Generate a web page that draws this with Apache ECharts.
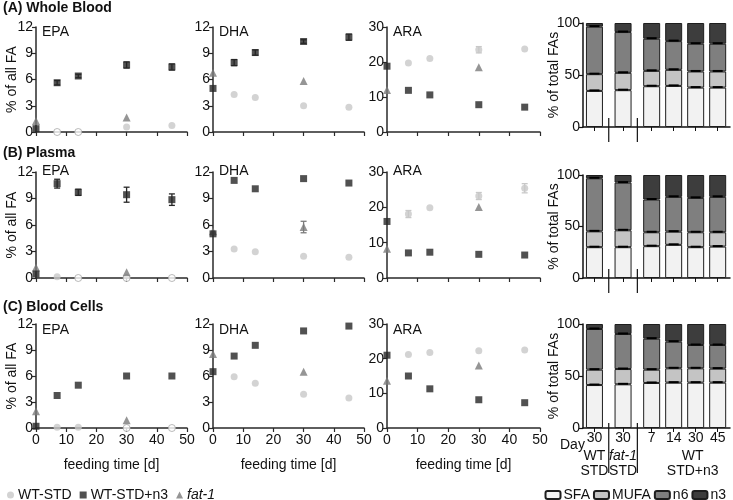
<!DOCTYPE html>
<html><head><meta charset="utf-8">
<script src="https://cdn.jsdelivr.net/npm/echarts@6/dist/echarts.min.js"></script>
<style>html,body{margin:0;padding:0;background:#fff}#c{width:733px;height:500px}</style>
</head><body><div id="c"></div>
<script>
// ---------------- data ----------------
const daysWT = [7, 14, 30, 45];
const daysN3 = [0, 7, 14, 30, 45];
const daysFat1 = [0, 30];

// (A) Whole blood
const wbEPA_WT = [0, 0, 0.57, 0.73];
const wbEPA_N3 = [0.38, 5.63, 6.4, 7.66, 7.43];
const wbEPA_Fat1 = [1.26, 1.65];
const wbEPA_N3_err = [0, 0.25, 0.2, 0.35, 0.35];
const wbDHA_WT = [4.29, 3.95, 2.99, 2.84];
const wbDHA_N3 = [4.98, 7.93, 9.08, 10.34, 10.84];
const wbDHA_Fat1 = [6.78, 5.82];
const wbDHA_N3_err = [0, 0.35, 0.3, 0.2, 0.35];
const wbARA_WT = [19.75, 21.0, 23.5, 23.7];
const wbARA_N3 = [18.8, 11.9, 10.6, 7.8, 7.1];
const wbARA_Fat1 = [12.0, 18.5];
const wbARA_WT_err = [0, 0, 0.9, 0];

// (B) Plasma
const plEPA_WT = [0.15, 0, 0, 0];
const plEPA_N3 = [0.45, 10.68, 9.7, 9.43, 8.87];
const plEPA_Fat1 = [1.2, 0.64];
const plEPA_N3_err = [0, 0.5, 0.35, 0.85, 0.65];
const plDHA_WT = [3.28, 2.98, 2.45, 2.34];
const plDHA_N3 = [5.0, 11.05, 10.1, 11.25, 10.75];
const plDHA_Fat1 = [5.28, 5.77];
const plDHA_Fat1_err = [0, 0.65];
const plARA_WT = [18.1, 19.9, 23.2, 25.4];
const plARA_N3 = [16.0, 7.1, 7.3, 6.7, 6.5];
const plARA_Fat1 = [8.3, 20.1];
const plARA_WT_err = [1.0, 0, 1.0, 1.3];

// (C) Blood cells
const bcEPA_WT = [0.08, 0.08, 0, 0];
const bcEPA_N3 = [0.2, 3.75, 4.94, 6.0, 6.0];
const bcEPA_Fat1 = [1.92, 0.88];
const bcDHA_WT = [5.9, 5.17, 3.9, 3.45];
const bcDHA_N3 = [6.5, 8.3, 9.54, 11.2, 11.76];
const bcDHA_Fat1 = [8.54, 6.5];
const bcARA_WT = [21.2, 21.8, 22.3, 22.5];
const bcARA_N3 = [21.0, 15.0, 11.3, 8.15, 7.3];
const bcARA_Fat1 = [13.6, 18.0];

// stacked composition bars
const barDay = ['30', '30', '7', '14', '30', '45'];
const barGroup = [0, 1, 2, 2, 2, 2];
const groupNames = [['WT', 'STD'], ['fat-1', 'STD'], ['WT', 'STD+n3']];
const fractions = ['SFA', 'MUFA', 'n6', 'n3'];
const wbSFA = [34.7, 35.4, 39.2, 39.5, 37.9, 37.9];
const wbMUFA = [16.1, 16.7, 14.8, 15.5, 15.5, 15.5];
const wbN6 = [45.7, 39.2, 30.9, 27.6, 26.7, 26.7];
const wbN3 = [3.5, 8.7, 15.1, 17.4, 19.9, 19.9];
const plSFA = [29.9, 29.9, 30.9, 32.2, 29.9, 30.5];
const plMUFA = [15.4, 16.4, 13.5, 12.8, 14.5, 13.9];
const plN6 = [51.5, 46.3, 31.8, 33.8, 33.4, 34.4];
const plN3 = [3.2, 7.4, 23.8, 21.2, 22.2, 21.2];
const bcSFA = [41.3, 42.0, 43.3, 43.6, 43.6, 43.6];
const bcMUFA = [14.8, 14.7, 12.8, 13.8, 13.8, 13.5];
const bcN6 = [39.1, 33.7, 29.8, 25.6, 22.4, 22.7];
const bcN3 = [4.8, 9.6, 14.1, 17.0, 20.2, 20.2];

// ---------------- layout / style ----------------
const FONT = '"Liberation Sans", Arial, Helvetica, sans-serif';
const TXT = '#111';
const AX = '#2a2a2a';
const C_WT = '#c8c8c8', C_N3 = '#262626', C_F1 = '#7b7b7b';
const BAR_COLORS = ['#f2f2f2', '#c4c4c4', '#7f7f7f', '#3d3d3d'];

const rowTitles = ['(A) Whole Blood', '(B) Plasma', '(C) Blood Cells'];
const rowTitleTop = [1, 146, 300];
const rowTop = [27, 172, 324], rowH = [105, 106, 104];
const colLeft = [36, 213, 387], colW = [151, 151, 153];
const labelCenter = [33, 172, 331];
const barTop = [23, 175, 324], barH = [104, 103, 104];
const barLeft = 583, barW = 147;

const panels = [
  [
    {name: 'EPA', max: 12, iv: 3, wt: wbEPA_WT, n3: wbEPA_N3, f1: wbEPA_Fat1, n3Err: wbEPA_N3_err},
    {name: 'DHA', max: 12, iv: 3, wt: wbDHA_WT, n3: wbDHA_N3, f1: wbDHA_Fat1, n3Err: wbDHA_N3_err},
    {name: 'ARA', max: 30, iv: 10, wt: wbARA_WT, n3: wbARA_N3, f1: wbARA_Fat1, wtErr: wbARA_WT_err}
  ],
  [
    {name: 'EPA', max: 12, iv: 3, wt: plEPA_WT, n3: plEPA_N3, f1: plEPA_Fat1, n3Err: plEPA_N3_err},
    {name: 'DHA', max: 12, iv: 3, wt: plDHA_WT, n3: plDHA_N3, f1: plDHA_Fat1, f1Err: plDHA_Fat1_err},
    {name: 'ARA', max: 30, iv: 10, wt: plARA_WT, n3: plARA_N3, f1: plARA_Fat1, wtErr: plARA_WT_err}
  ],
  [
    {name: 'EPA', max: 12, iv: 3, wt: bcEPA_WT, n3: bcEPA_N3, f1: bcEPA_Fat1},
    {name: 'DHA', max: 12, iv: 3, wt: bcDHA_WT, n3: bcDHA_N3, f1: bcDHA_Fat1},
    {name: 'ARA', max: 30, iv: 10, wt: bcARA_WT, n3: bcARA_N3, f1: bcARA_Fat1}
  ]
];
const barData = [
  [wbSFA, wbMUFA, wbN6, wbN3],
  [plSFA, plMUFA, plN6, plN3],
  [bcSFA, bcMUFA, bcN6, bcN3]
];

// bar positions on a value axis: index plus a gap between groups
const barPos = barGroup.map((g, i) => +(i + 0.3 * g).toFixed(2));
const groupCenters = groupNames.map((_, g) => {
  const ps = barPos.filter((p, i) => barGroup[i] === g);
  return (ps[0] + ps[ps.length - 1]) / 2;
});
const separators = [1, 2].map(g => {
  const a = barPos[barGroup.indexOf(g) - 1], b = barPos[barGroup.indexOf(g)];
  return (a + b) / 2;
});

function errRender(params, api) {
  const x = api.value(0), lo = api.value(1), hi = api.value(2);
  const a = api.coord([x, lo]), b = api.coord([x, hi]);
  const w = 3;
  const st = {stroke: api.visual('color'), lineWidth: 1.3};
  return {type: 'group', children: [
    {type: 'line', shape: {x1: a[0], y1: a[1], x2: b[0], y2: b[1]}, style: st},
    {type: 'line', shape: {x1: a[0] - w, y1: a[1], x2: a[0] + w, y2: a[1]}, style: st},
    {type: 'line', shape: {x1: b[0] - w, y1: b[1], x2: b[0] + w, y2: b[1]}, style: st}
  ]};
}
function errData(days, vals, errs) {
  const out = [];
  if (!errs) return out;
  days.forEach((d, i) => { if (errs[i] > 0) out.push([d, vals[i] - errs[i], vals[i] + errs[i]]); });
  return out;
}

const grid = [], xAxis = [], yAxis = [], series = [], title = [], graphic = [];
const axisLineStyle = {color: AX, width: 1.5};

for (let r = 0; r < 3; r++) {
  title.push({text: rowTitles[r], left: 3, top: rowTitleTop[r], padding: 0,
    textStyle: {fontFamily: FONT, fontSize: 14, fontWeight: 'bold', color: TXT}});
  for (let c = 0; c < 3; c++) {
    const p = panels[r][c];
    const gi = grid.length;
    grid.push({left: colLeft[c], top: rowTop[r], width: colW[c], height: rowH[r]});
    xAxis.push({gridIndex: gi, type: 'value', min: 0, max: 50, interval: 10,
      axisLine: {show: true, onZero: false, lineStyle: axisLineStyle},
      axisTick: {show: true, length: 4, lineStyle: {color: AX, width: 1.2}},
      axisLabel: {show: r === 2, fontFamily: FONT, fontSize: 14, color: TXT, margin: 5},
      splitLine: {show: false},
      name: r === 2 ? 'feeding time [d]' : '', nameLocation: 'middle', nameGap: 30,
      nameTextStyle: {fontFamily: FONT, fontSize: 14, color: TXT}});
    yAxis.push({gridIndex: gi, type: 'value', min: 0, max: p.max, interval: p.iv,
      axisLine: {show: true, onZero: false, lineStyle: axisLineStyle},
      axisTick: {show: true, length: 4, lineStyle: {color: AX, width: 1.2}},
      axisLabel: {fontFamily: FONT, fontSize: 14, color: TXT, margin: 3},
      splitLine: {show: false},
      name: c === 0 ? '% of all FA' : '', nameLocation: 'middle', nameGap: 17, nameMoveOverlap: false,
      nameTextStyle: {fontFamily: FONT, fontSize: 14, color: TXT}});
    title.push({text: p.name, left: colLeft[c] + 6, top: labelCenter[r] - 8, padding: 0,
      textStyle: {fontFamily: FONT, fontSize: 14, fontWeight: 'normal', color: TXT}});

    const common = {xAxisIndex: gi, yAxisIndex: gi};
    [[daysWT, p.wt, p.wtErr, C_WT], [daysN3, p.n3, p.n3Err, C_N3], [daysFat1, p.f1, p.f1Err, C_F1]].forEach(([d, v, e, col], k) => {
      const data = errData(d, v, e);
      if (data.length) series.push(Object.assign({type: 'custom', name: 'err' + k, renderItem: errRender,
        itemStyle: {color: col}, data: data, z: 1, silent: true}, common));
    });
    series.push(Object.assign({type: 'scatter', name: 'WT-STD', symbol: 'circle', symbolSize: 7, z: 3,
      itemStyle: {color: C_WT},
      data: daysWT.map((d, i) => p.wt[i] === 0
        ? {value: [d, 0], itemStyle: {color: '#fff', borderColor: '#a8a8a8', borderWidth: 1}}
        : [d, p.wt[i]])}, common));
    series.push(Object.assign({type: 'scatter', name: 'fat-1', symbol: 'triangle', symbolSize: 8, z: 3,
      itemStyle: {color: C_F1}, data: daysFat1.map((d, i) => [d, p.f1[i]])}, common));
    series.push(Object.assign({type: 'scatter', name: 'WT-STD+n3', symbol: 'rect', symbolSize: 7, z: 4,
      itemStyle: {color: C_N3}, data: daysN3.map((d, i) => [d, p.n3[i]])}, common));
  }

  // stacked composition bars
  const gi = grid.length;
  grid.push({left: barLeft, top: barTop[r], width: barW, height: barH[r]});
  const xMin = -0.52, xMax = 6.16;
  xAxis.push({gridIndex: gi, type: 'value', min: xMin, max: xMax,
    axisLine: {show: true, onZero: false, lineStyle: {color: '#111', width: 1.5}},
    axisTick: {show: true, length: 4, customValues: barPos, lineStyle: {color: '#111', width: 1}},
    axisLabel: {show: r === 2, customValues: barPos, fontFamily: FONT, fontSize: 14, color: TXT, margin: 3,
      formatter: v => barDay[barPos.findIndex(q => Math.abs(q - v) < 1e-6)]},
    splitLine: {show: false}});
  yAxis.push({gridIndex: gi, type: 'value', min: 0, max: 100, interval: 50,
    axisLine: {show: true, onZero: false, lineStyle: {color: '#111', width: 1.5}},
    axisTick: {show: true, length: 4, lineStyle: {color: '#111', width: 1.2}},
    axisLabel: {fontFamily: FONT, fontSize: 14, color: TXT, margin: 3},
    splitLine: {show: false},
    name: '% of total FAs', nameLocation: 'middle', nameGap: 22, nameMoveOverlap: false,
    nameTextStyle: {fontFamily: FONT, fontSize: 14, color: TXT}});
  const cum = barPos.map(() => 0);
  const caps = [];
  fractions.forEach((f, k) => {
    const vals = barData[r][k];
    // value first so the stacked dimension is y; x position second
    series.push({type: 'bar', name: f, xAxisIndex: gi, yAxisIndex: gi, stack: 'comp' + r, barWidth: 17,
      encode: {x: 1, y: 0},
      itemStyle: {color: BAR_COLORS[k], borderColor: '#1e1e1e', borderWidth: 1},
      data: barPos.map((p, i) => [vals[i], p])});
    vals.forEach((v, i) => { cum[i] += v; if (k < 3) caps.push([barPos[i], cum[i]]); });
  });
  series.push({type: 'custom', name: 'caps', xAxisIndex: gi, yAxisIndex: gi, silent: true, z: 5,
    renderItem: (params, api) => {
      const pt = api.coord([api.value(0), api.value(1)]);
      return {type: 'line', shape: {x1: pt[0] - 5, y1: pt[1] - 0.5, x2: pt[0] + 5, y2: pt[1] - 0.5},
        style: {stroke: '#000', lineWidth: 2}};
    }, data: caps});
  const up = r === 2 ? 5 : 9, down = r === 2 ? 45 : 15;
  series.push({type: 'custom', name: 'sep', xAxisIndex: gi, yAxisIndex: gi, silent: true, clip: false, z: 5,
    renderItem: (params, api) => {
      const pt = api.coord([api.value(0), 0]);
      return {type: 'line', shape: {x1: pt[0], y1: pt[1] - up, x2: pt[0], y2: pt[1] + down},
        style: {stroke: '#111', lineWidth: 1.2}};
    }, data: separators.map(s => [s])});

  if (r === 2) {
    xAxis.push({gridIndex: gi, type: 'value', min: xMin, max: xMax, position: 'bottom',
      axisLine: {show: false}, axisTick: {show: false}, splitLine: {show: false},
      axisLabel: {show: true, customValues: groupCenters, margin: 21, fontFamily: FONT, fontSize: 14,
        color: TXT, lineHeight: 15,
        formatter: v => {
          const g = groupCenters.findIndex(q => Math.abs(q - v) < 1e-6);
          const [a, b] = groupNames[g];
          const tag = g === 1 ? 'i' : (g === 2 ? 'w' : 'n');
          return '{' + tag + '|' + a + '}\n{' + (g === 2 ? 'w' : 'n') + '|' + b + '}';
        },
        rich: {
          n: {fontFamily: FONT, fontSize: 14, color: TXT, lineHeight: 15},
          i: {fontFamily: FONT, fontSize: 14, color: TXT, lineHeight: 15, fontStyle: 'italic'},
          w: {fontFamily: FONT, fontSize: 14, color: TXT, lineHeight: 15, padding: [0, 0, 0, 16]}
        }}});
  }
}

graphic.push({type: 'text', left: 560, top: 438,
  style: {text: 'Day', fontFamily: FONT, fontSize: 14, fill: TXT}});

const option = {
  animation: false,
  backgroundColor: '#fff',
  title: title,
  grid: grid,
  xAxis: xAxis,
  yAxis: yAxis,
  graphic: graphic,
  legend: [
    {left: 2, top: 483, itemWidth: 7, itemHeight: 7, itemGap: 8,
      textStyle: {fontFamily: FONT, fontSize: 14, color: TXT, padding: [0, 0, 0, -1]},
      data: ['WT-STD', 'WT-STD+n3', {name: 'fat-1', textStyle: {fontStyle: 'italic'}}]},
    {right: 2, top: 483, itemWidth: 15, itemHeight: 8, itemGap: 3,
      textStyle: {fontFamily: FONT, fontSize: 14, color: TXT, padding: [0, 0, 0, -2]},
      data: fractions}
  ],
  series: series
};
const chart = echarts.init(document.getElementById('c'), null, {renderer: 'canvas'});
chart.setOption(option);
</script>
</body></html>
